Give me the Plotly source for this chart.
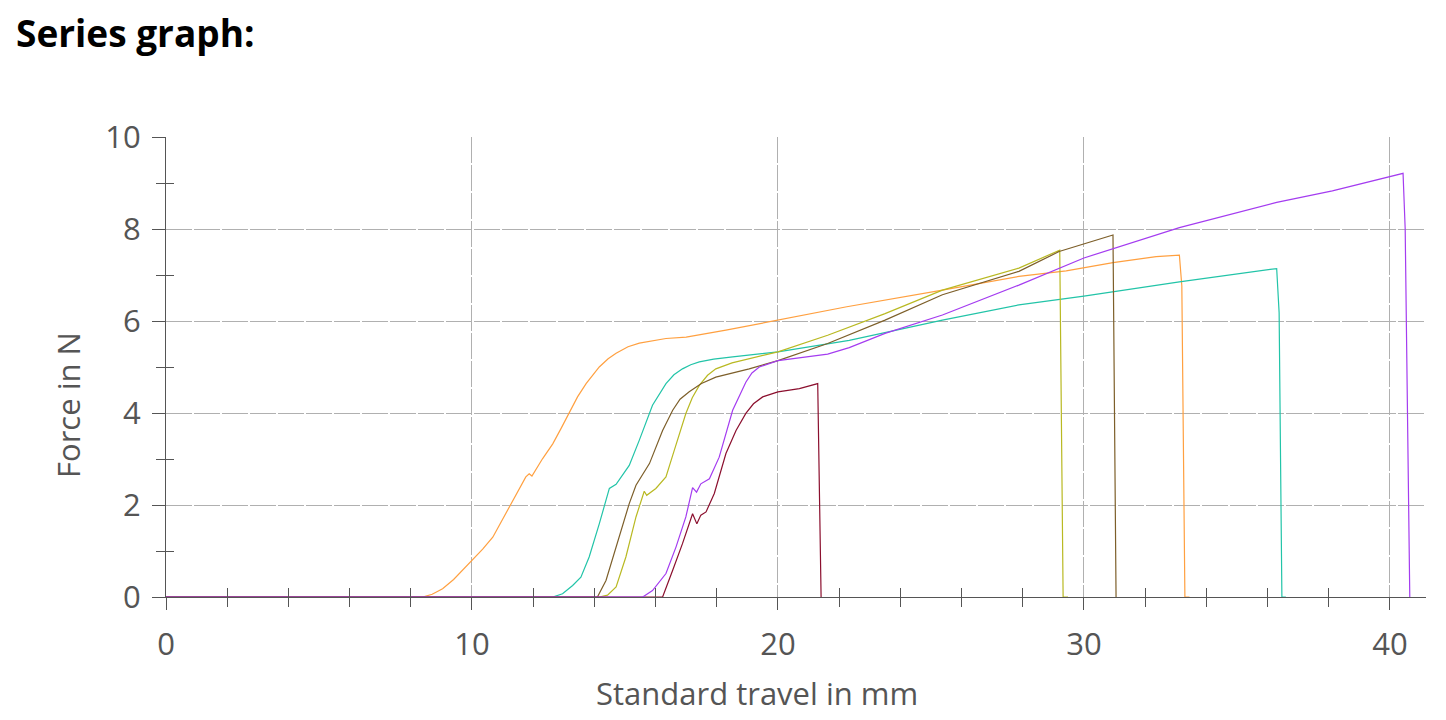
import plotly.graph_objects as go

# ---- data (Standard travel in mm, Force in N) ----
orange_x = [0, 8.39, 8.7, 9.04, 9.4, 9.69, 10.02, 10.35, 10.68, 11.0, 11.33, 11.76, 11.87, 11.96, 12.31, 12.64,
            12.9, 13.18, 13.45, 13.73, 14.16, 14.45, 14.71, 15.1, 15.47, 16.34, 17.0, 18.3, 20.0, 22.25,
            25.375, 27.875, 29.42, 30.95, 32.36, 33.12, 33.2, 33.3, 33.45]
orange_y = [0, 0, 0.06, 0.18, 0.38, 0.58, 0.80, 1.04, 1.30, 1.68, 2.10, 2.61, 2.68, 2.63, 3.01, 3.33,
            3.65, 4.02, 4.35, 4.64, 5.0, 5.18, 5.30, 5.44, 5.52, 5.62, 5.65, 5.80, 6.02, 6.31,
            6.67, 6.97, 7.09, 7.27, 7.40, 7.43, 6.76, 0, 0]

teal_x = [0, 12.64, 12.96, 13.29, 13.56, 13.83, 14.16, 14.49, 14.71, 14.92, 15.14, 15.47, 15.90, 16.34,
          16.6, 16.88, 17.15, 17.43, 17.9, 18.52, 20.0, 22.33, 25.375, 27.875, 30.0, 33.12, 36.30, 36.38,
          36.47, 36.6]
teal_y = [0, 0, 0.07, 0.25, 0.43, 0.87, 1.59, 2.36, 2.45, 2.64, 2.86, 3.41, 4.17, 4.64,
          4.83, 4.96, 5.05, 5.11, 5.17, 5.22, 5.33, 5.58, 6.02, 6.35, 6.54, 6.85, 7.14, 6.18,
          0, 0]

olive_x = [0, 14.16, 14.43, 14.71, 15.03, 15.36, 15.63, 15.71, 16.01, 16.34, 16.56, 16.99, 17.2, 17.43,
           17.7, 17.97, 18.5, 19.06, 20.0, 21.625, 23.5, 25.375, 27.875, 29.21, 29.32, 29.48]
olive_y = [0, 0, 0.04, 0.22, 0.87, 1.74, 2.30, 2.21, 2.36, 2.61, 3.08, 3.99, 4.33, 4.60,
           4.82, 4.96, 5.09, 5.18, 5.33, 5.69, 6.16, 6.67, 7.15, 7.54, 0, 0]

brown_x = [0, 14.1, 14.38, 14.71, 15.14, 15.36, 15.80, 16.23, 16.56, 16.8, 17.10, 17.5, 17.97, 19.06, 20.0,
           21.625, 23.5, 25.375, 27.875, 29.19, 30.95, 31.05]
brown_y = [0, 0, 0.36, 1.09, 2.03, 2.43, 2.90, 3.62, 4.06, 4.30, 4.46, 4.64, 4.78, 4.96, 5.14,
           5.51, 6.02, 6.57, 7.08, 7.51, 7.87, 0]

maroon_x = [0, 16.23, 16.56, 16.88, 17.21, 17.35, 17.48, 17.65, 17.92, 18.30, 18.63, 18.95, 19.2, 19.50,
            20.0, 20.70, 21.30, 21.41]
maroon_y = [0, 0, 0.58, 1.16, 1.81, 1.59, 1.78, 1.85, 2.25, 3.12, 3.62, 3.99, 4.2, 4.35,
            4.46, 4.53, 4.64, 0]

purple_x = [0, 15.58, 15.90, 16.34, 16.67, 16.99, 17.21, 17.34, 17.48, 17.76, 18.08, 18.52, 18.95, 19.15,
            19.39, 20.0, 21.625, 22.33, 23.5, 25.375, 27.875, 30.0, 33.12, 36.30, 38.12, 40.43, 40.5, 40.65]
purple_y = [0, 0, 0.14, 0.51, 1.09, 1.74, 2.38, 2.28, 2.46, 2.57, 3.04, 4.06, 4.67, 4.87,
            5.0, 5.14, 5.28, 5.42, 5.73, 6.13, 6.78, 7.37, 8.03, 8.58, 8.83, 9.21, 8.0, 0]

series = [
    ("orange", orange_x, orange_y, "#ffa040"),
    ("teal", teal_x, teal_y, "#22c4a8"),
    ("olive", olive_x, olive_y, "#b9b922"),
    ("brown", brown_x, brown_y, "#7d5f2a"),
    ("maroon", maroon_x, maroon_y, "#8b0f2e"),
    ("purple", purple_x, purple_y, "#a43cf0"),
]

chart_title = "Series graph:"
x_title = "Standard travel in mm"
y_title = "Force in N"

x_range = [0, 41.18]
y_range = [0, 10]
x_minor_inside = [v for v in range(2, 42, 2) if v % 10]
y_minor_inside = [1, 3, 5, 7, 9]

FONT = "Open Sans"
AX = "#555555"

fig = go.Figure()
for name, xs, ys, col in series:
    fig.add_trace(go.Scatter(x=xs, y=ys, mode="lines", name=name,
                             line=dict(color=col, width=1.2), showlegend=False))

# invisible trace for overlay axes (inner halves of crossing minor ticks)
fig.add_trace(go.Scatter(x=[0], y=[0], xaxis="x2", yaxis="y2", mode="markers",
                         marker=dict(opacity=0), showlegend=False, hoverinfo="skip"))

grid = dict(showgrid=True, gridcolor="#b0b0b0", gridwidth=1, griddash="26px,2px")

fig.update_layout(
    width=1446, height=720,
    paper_bgcolor="white", plot_bgcolor="white",
    margin=dict(l=158, r=28, t=129, b=131),
    xaxis=dict(range=x_range, dtick=10, tick0=0, ticks="outside", ticklen=12, tickcolor=AX,
               showline=True, linecolor=AX, linewidth=1, zeroline=False,
               tickfont=dict(family=FONT, size=31, color=AX), ticklabelstandoff=8,
               minor=dict(dtick=2, ticks="outside", ticklen=9, tickcolor=AX, showgrid=False),
               **grid),
    yaxis=dict(range=y_range, dtick=2, tick0=0, ticks="outside", ticklen=13, tickcolor=AX,
               showline=True, linecolor=AX, linewidth=1, zeroline=False,
               tickfont=dict(family=FONT, size=31, color=AX), ticklabelstandoff=5,
               minor=dict(dtick=1, ticks="outside", ticklen=9, tickcolor=AX, showgrid=False),
               **grid),
    xaxis2=dict(overlaying="x", anchor="y", range=x_range, tickmode="array",
                tickvals=x_minor_inside, ticks="inside", ticklen=9, tickcolor=AX,
                showticklabels=False, showgrid=False, zeroline=False, showline=False),
    yaxis2=dict(overlaying="y", anchor="x", range=y_range, tickmode="array",
                tickvals=y_minor_inside, ticks="inside", ticklen=8, tickcolor=AX,
                showticklabels=False, showgrid=False, zeroline=False, showline=False),
    annotations=[
        dict(text="<b>" + chart_title + "</b>", xref="paper", yref="paper",
             x=(14 - 166) / 1260, y=(597 - 33) / 460,
             xanchor="left", yanchor="middle", showarrow=False,
             font=dict(family=FONT, size=37, color="black")),
        dict(text=x_title, xref="paper", yref="paper", x=0.4687, y=-0.2087,
             xanchor="center", yanchor="middle", showarrow=False,
             font=dict(family=FONT, size=31, color=AX)),
        dict(text=y_title, xref="paper", yref="paper", x=-98 / 1260, y=(597 - 405) / 460,
             xanchor="center", yanchor="middle", showarrow=False, textangle=-90,
             font=dict(family=FONT, size=31, color=AX)),
    ],
)

fig.write_html("out.html")
